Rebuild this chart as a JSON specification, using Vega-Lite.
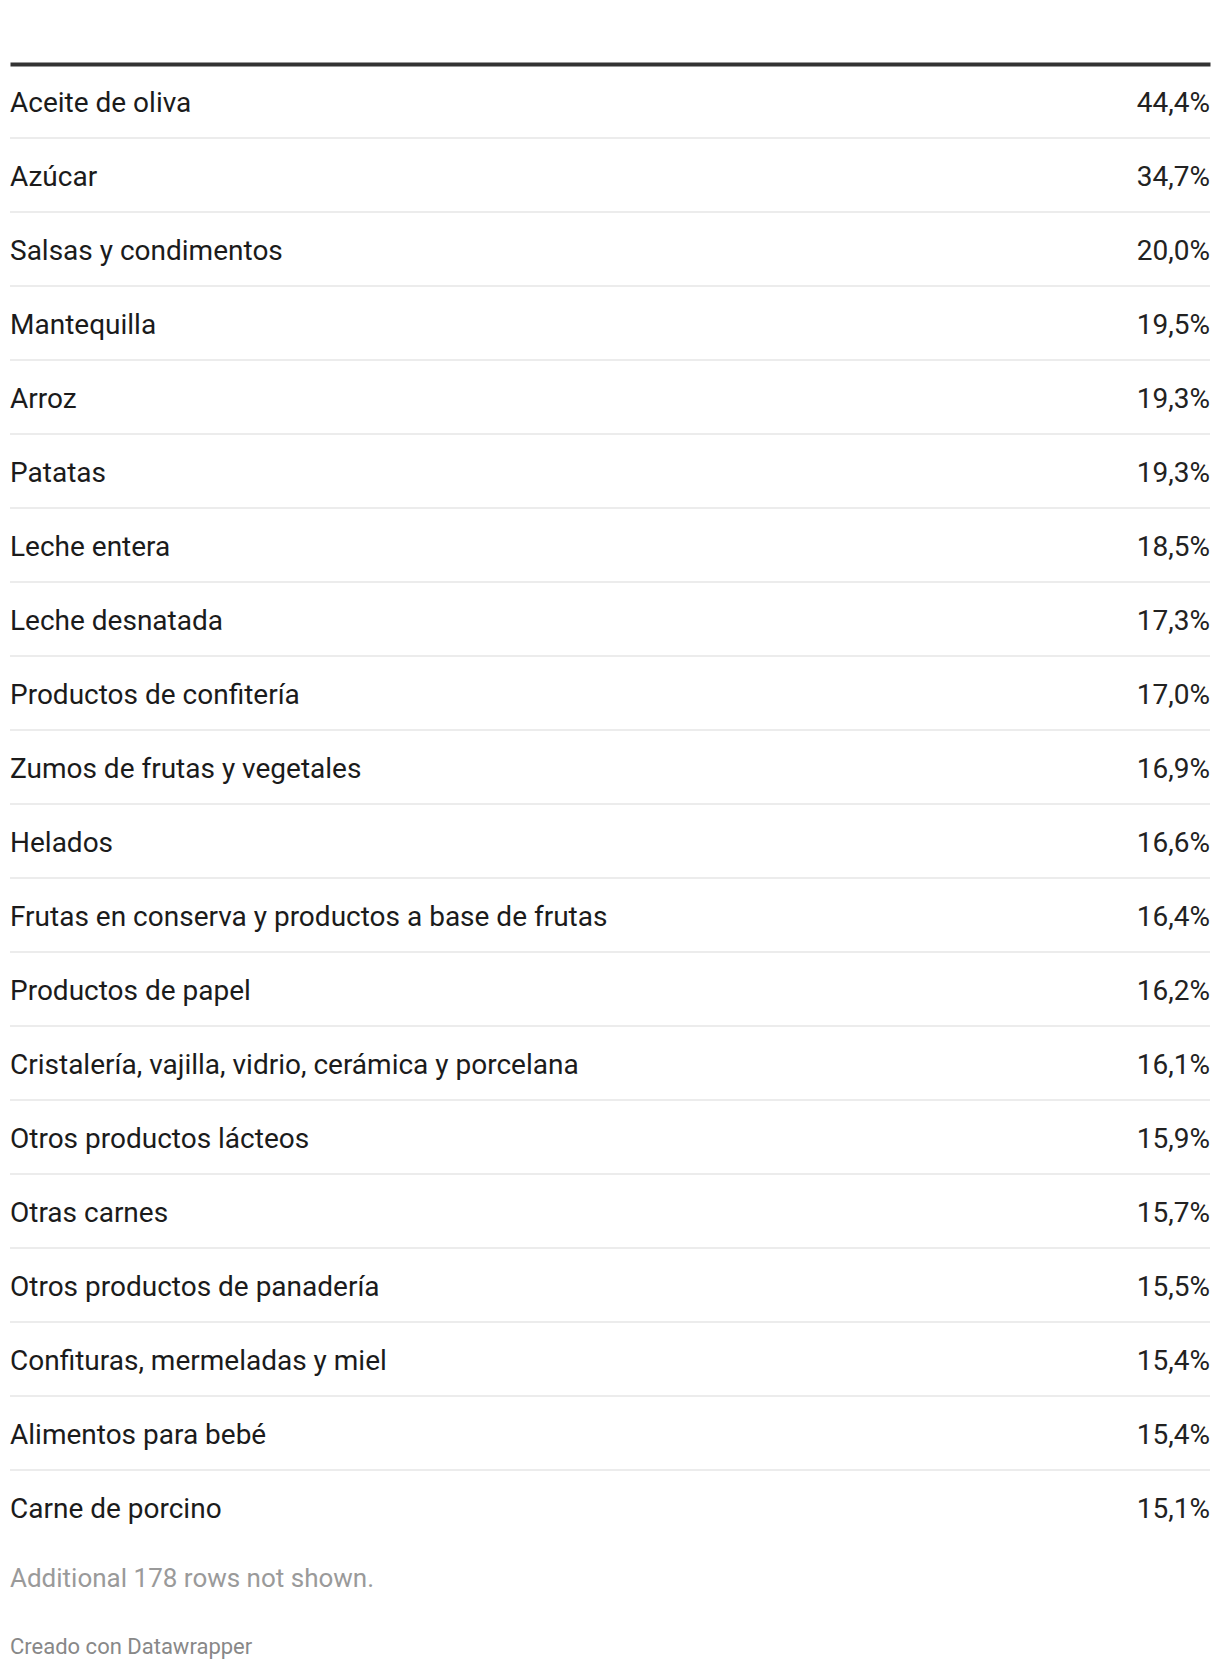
{
  "$schema": "https://vega.github.io/schema/vega-lite/v6.json",
  "autosize": "none",
  "width": 1200,
  "height": 1480,
  "padding": {"left": 10, "right": 10, "top": 64, "bottom": 126},
  "background": "#ffffff",
  "config": {
    "view": {"stroke": null},
    "font": "Roboto",
    "locale": {"number": {"decimal": ",", "thousands": ".", "grouping": [3], "currency": ["", "%"]}}
  },
  "title": {
    "text": "Additional 178 rows not shown.",
    "subtitle": "Creado con Datawrapper",
    "orient": "bottom",
    "anchor": "start",
    "frame": "group",
    "font": "Roboto",
    "fontSize": 26,
    "fontWeight": "normal",
    "color": "#9a9a9a",
    "subtitleFont": "Roboto",
    "subtitleFontSize": 22,
    "subtitleColor": "#888888",
    "offset": 22,
    "subtitlePadding": 45
  },
  "data": {
    "values": [
      {"name": "Aceite de oliva", "pct": 44.4, "rank": 1},
      {"name": "Azúcar", "pct": 34.7, "rank": 2},
      {"name": "Salsas y condimentos", "pct": 20.0, "rank": 3},
      {"name": "Mantequilla", "pct": 19.5, "rank": 4},
      {"name": "Arroz", "pct": 19.3, "rank": 5},
      {"name": "Patatas", "pct": 19.3, "rank": 6},
      {"name": "Leche entera", "pct": 18.5, "rank": 7},
      {"name": "Leche desnatada", "pct": 17.3, "rank": 8},
      {"name": "Productos de confitería", "pct": 17.0, "rank": 9},
      {"name": "Zumos de frutas y vegetales", "pct": 16.9, "rank": 10},
      {"name": "Helados", "pct": 16.6, "rank": 11},
      {"name": "Frutas en conserva y productos a base de frutas", "pct": 16.4, "rank": 12},
      {"name": "Productos de papel", "pct": 16.2, "rank": 13},
      {"name": "Cristalería, vajilla, vidrio, cerámica y porcelana", "pct": 16.1, "rank": 14},
      {"name": "Otros productos lácteos", "pct": 15.9, "rank": 15},
      {"name": "Otras carnes", "pct": 15.7, "rank": 16},
      {"name": "Otros productos de panadería", "pct": 15.5, "rank": 17},
      {"name": "Confituras, mermeladas y miel", "pct": 15.4, "rank": 18},
      {"name": "Alimentos para bebé", "pct": 15.4, "rank": 19},
      {"name": "Carne de porcino", "pct": 15.1, "rank": 20}
    ]
  },
  "encoding": {
    "y": {"field": "name", "type": "nominal", "sort": null, "axis": null,
          "scale": {"paddingInner": 0, "paddingOuter": 0}}
  },
  "layer": [
    {
      "transform": [{"filter": "datum.rank < 20"}],
      "mark": {"type": "rule", "stroke": "#ececec", "strokeWidth": 2},
      "encoding": {
        "y": {"field": "name", "type": "nominal", "sort": null, "bandPosition": 1}
      }
    },
    {
      "mark": {"type": "text", "align": "left", "baseline": "middle", "dy": 3, "fontSize": 28, "color": "#1b1b1b", "font": "Roboto"},
      "encoding": {
        "x": {"datum": 0, "type": "quantitative",
              "scale": {"domain": [0, 1]},
              "axis": {"orient": "top", "labels": false, "ticks": false, "grid": false, "title": null,
                       "domain": true, "domainWidth": 4, "domainColor": "#333333"}},
        "text": {"field": "name", "type": "nominal"}
      }
    },
    {
      "mark": {"type": "text", "align": "right", "baseline": "middle", "dy": 3, "fontSize": 28, "color": "#222222", "font": "Roboto"},
      "encoding": {
        "x": {"datum": 1, "type": "quantitative"},
        "text": {"field": "pct", "type": "quantitative", "format": "$.1f"}
      }
    }
  ]
}
